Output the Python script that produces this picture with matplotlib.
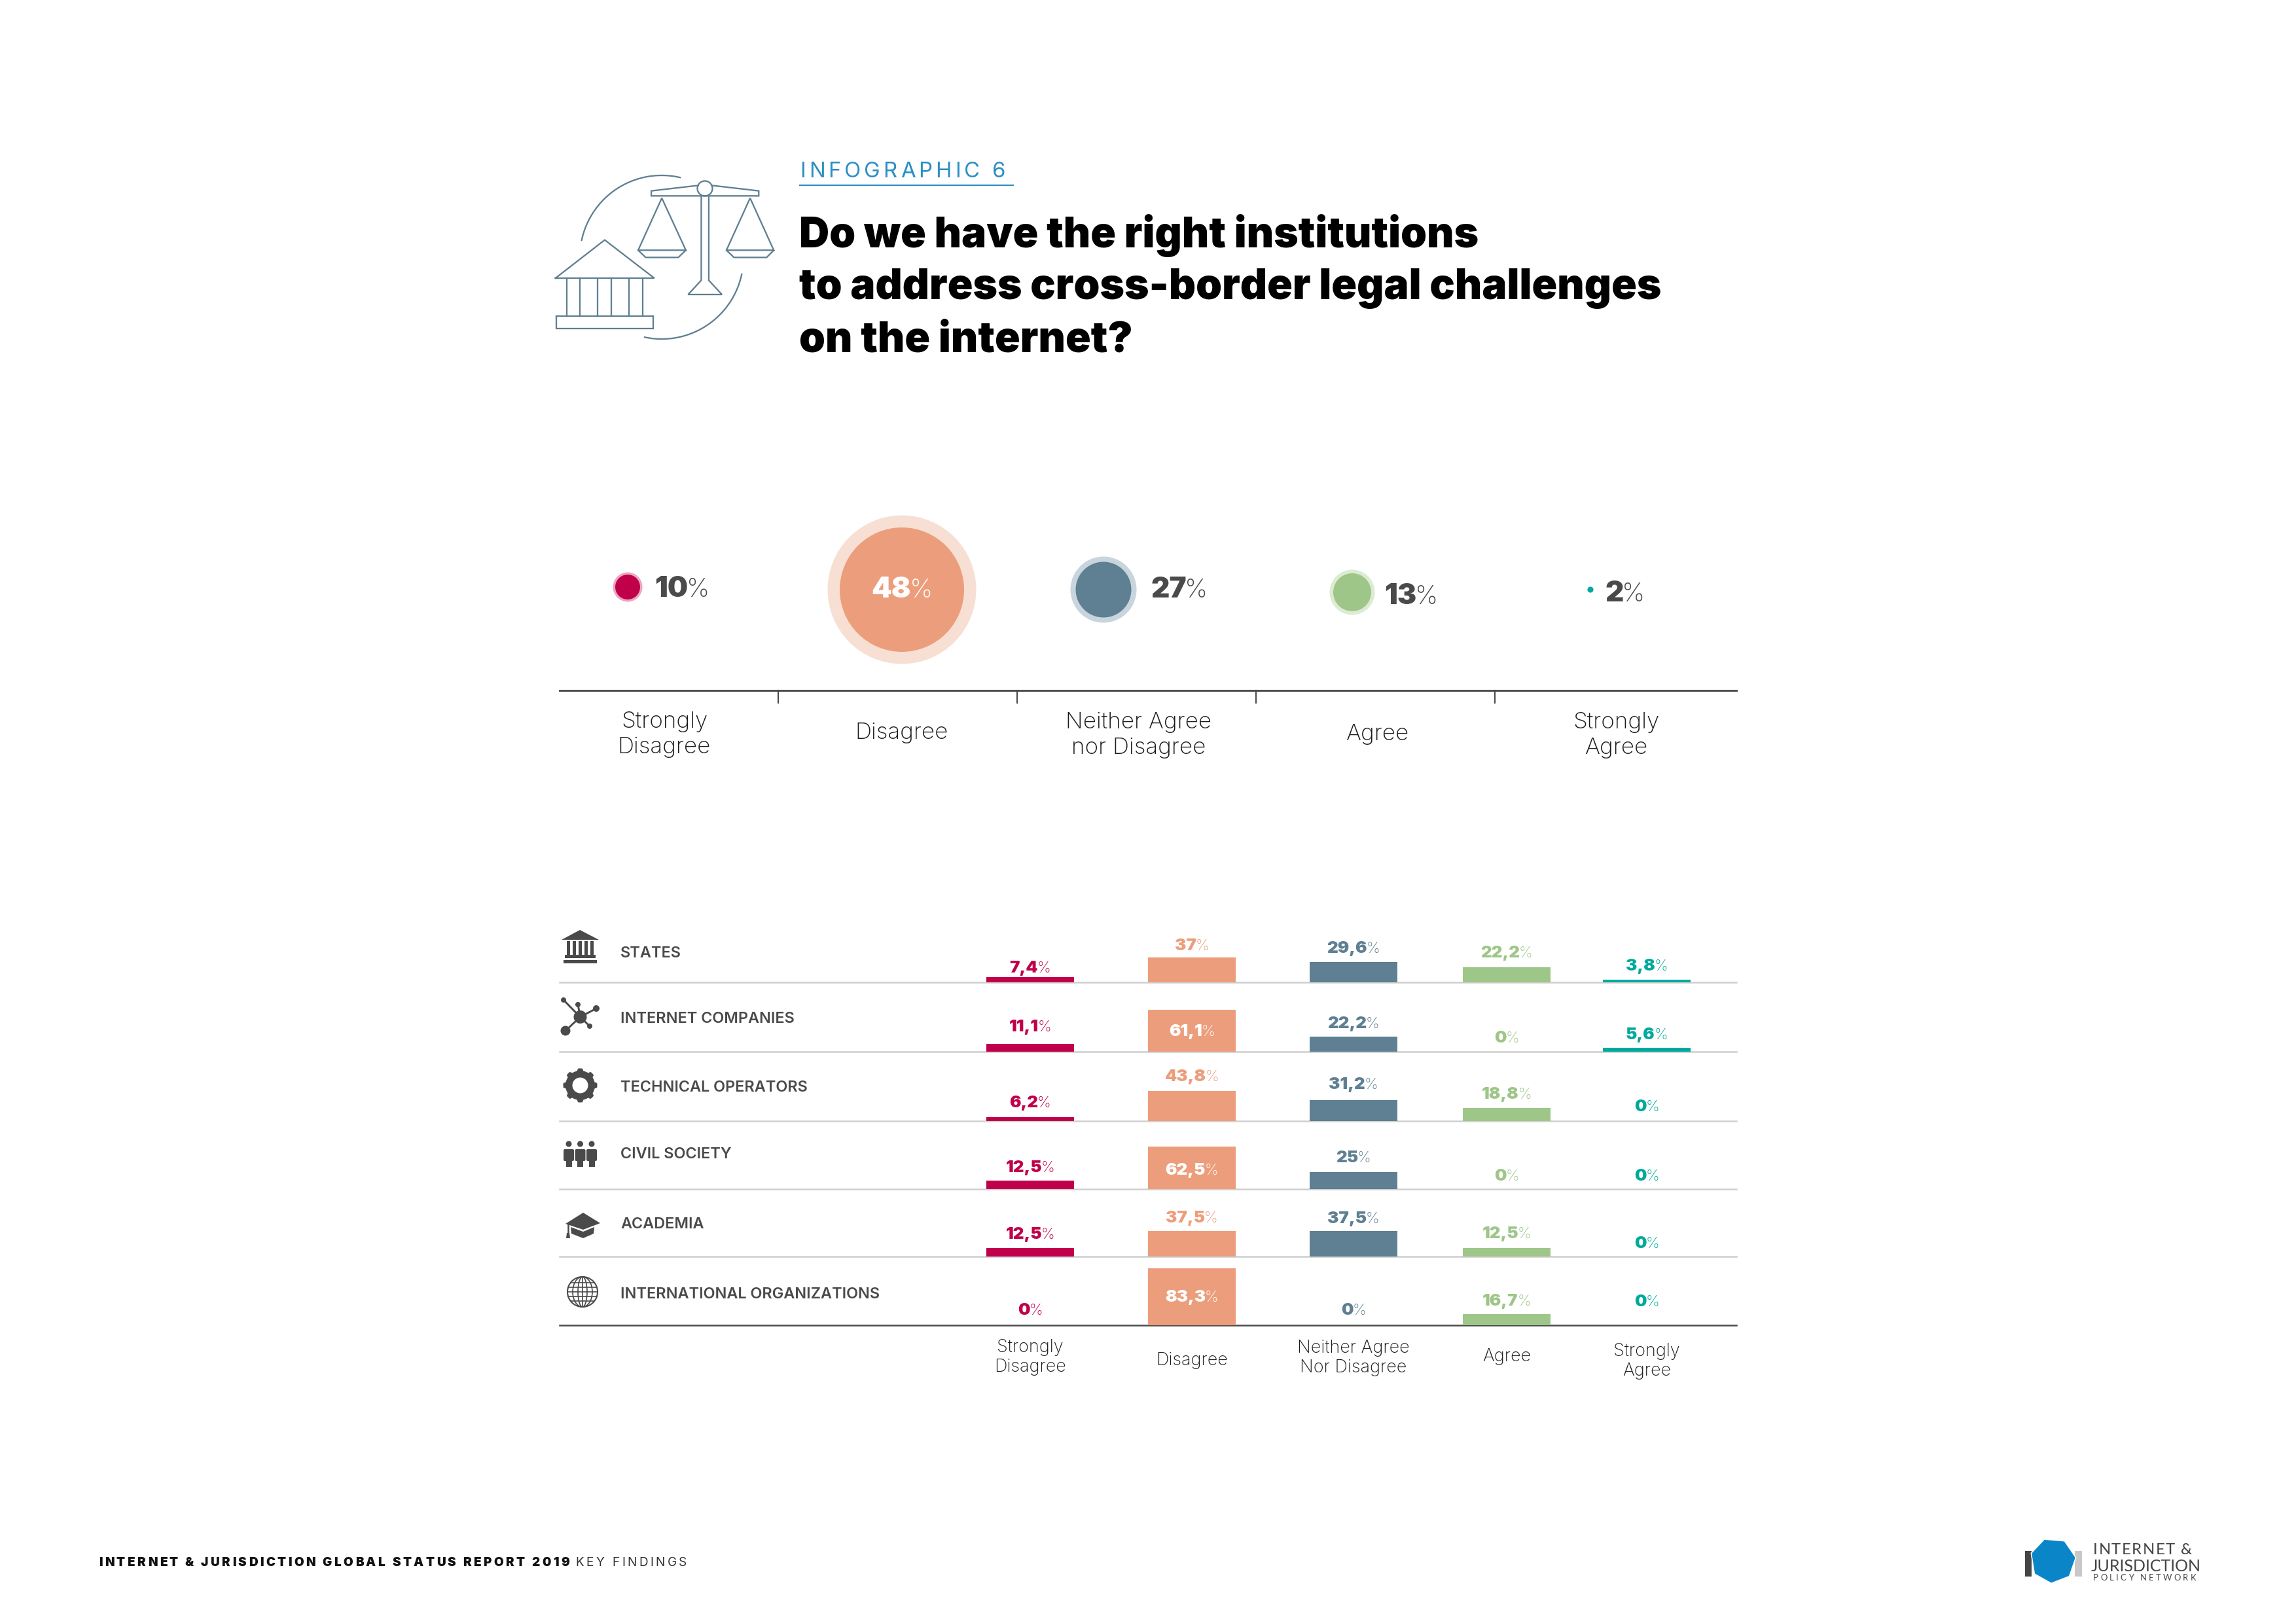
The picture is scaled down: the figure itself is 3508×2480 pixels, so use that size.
import numpy as np
import matplotlib
matplotlib.use("Agg")
import matplotlib.pyplot as plt
from matplotlib.font_manager import FontProperties
from matplotlib.patches import Circle, Ellipse, Polygon, Rectangle, FancyBboxPatch

W, H = 3508, 2480
DPI = 300

# survey totals
total_labels = ["Strongly\nDisagree", "Disagree", "Neither Agree\nnor Disagree", "Agree", "Strongly\nAgree"]
total_values = [10, 48, 27, 13, 2]

# per stakeholder group
groups = ["STATES", "INTERNET COMPANIES", "TECHNICAL OPERATORS", "CIVIL SOCIETY", "ACADEMIA", "INTERNATIONAL ORGANIZATIONS"]
answers = ["Strongly\nDisagree", "Disagree", "Neither Agree\nNor Disagree", "Agree", "Strongly\nAgree"]
strongly_disagree = [7.4, 11.1, 6.2, 12.5, 12.5, 0]
disagree = [37, 61.1, 43.8, 62.5, 37.5, 83.3]
neither = [29.6, 22.2, 31.2, 25, 37.5, 0]
agree = [22.2, 0, 18.8, 0, 12.5, 16.7]
strongly_agree = [3.8, 5.6, 0, 0, 0, 0]
series = [strongly_disagree, disagree, neither, agree, strongly_agree]

# colours
colors = ["#c0004a", "#ec9e7c", "#5f7f92", "#9ec688", "#00a99d"]
halos = ["#eda6c2", "#f8dfd3", "#c9d5dd", "#dcebd2", "#9fded9"]
DARK = "#4a4a4a"
TEXT = "#1c1c1c"
BLUE = "#2a8fc4"
FONT = "Inter"
LIGHT = "Inter"

# layout, all in picture pixels
bubble_x = [959, 1378, 1686, 2066, 2430]
bubble_y = [897, 901, 901, 905, 901]
bubble_d = [38, 190, 85, 58, 9]
halo_d = [45, 227, 101, 69, 9]
bubble_text_x = [1000, 1378, 1758, 2115, 2452]
bubble_text_y = [896, 897, 897, 907, 903]
top_label_x = [1015, 1378, 1740, 2105, 2470]
top_label_y = [1122, 1120, 1123, 1122, 1123]
top_ticks = [1189, 1554, 1919, 2284]

baselines = [1501, 1607, 1713, 1817, 1920, 2025]
rule_x0, rule_x1 = 855, 2653
bar_x = [1574, 1821, 2068, 2302, 2516]
bar_w = 134
px_per_pct = 1.04
group_y = [1454, 1554, 1659, 1761, 1868, 1975]
value_y = [[1477, 1567, 1683, 1782, 1884, 2000],
           [1443, 1574, 1643, 1786, 1859, 1980],
           [1447, 1562, 1655, 1767, 1860, 2000],
           [1454, 1584, 1670, 1795, 1883, 1986],
           [1474, 1579, 1689, 1795, 1898, 1987]]
answer_y = [2074, 2079, 2075, 2073, 2080]


def fs(px):
    return px * 72 / DPI


fig = plt.figure(figsize=(W / DPI, H / DPI), dpi=DPI, facecolor="white")
renderer = fig.canvas.get_renderer()

# one small axes per row, 0-100 percent upwards from the row rule
for i in range(len(groups)):
    r = fig.add_axes([rule_x0 / W, 1 - baselines[i] / H, (rule_x1 - rule_x0) / W, 100 * px_per_pct / H])
    r.patch.set_visible(False)
    r.set_xlim(rule_x0, rule_x1)
    r.set_ylim(0, 100)
    r.set_xticks([])
    r.set_yticks([])
    for name in ["top", "left", "right"]:
        r.spines[name].set_visible(False)
    r.spines["bottom"].set_zorder(0)
    r.spines["bottom"].set_color(DARK if i == len(groups) - 1 else "#cfcfcf")
    r.spines["bottom"].set_linewidth(0.6)
    r.bar(bar_x, [s[i] for s in series], width=bar_w, color=colors)

ax = fig.add_axes([0, 0, 1, 1])
ax.patch.set_visible(False)
ax.set_xlim(0, W)
ax.set_ylim(H, 0)
ax.axis("off")


def text_w(s, fp):
    return renderer.get_text_width_height_descent(s, fp, False)[0]


def tracked(x, y, s, size, color, track, family=FONT, weight="normal"):
    fp = FontProperties(family=family, weight=weight, size=fs(size))
    for i, ch in enumerate(s):
        ax.text(x + text_w(s[:i], fp) + i * track, y, ch, fontproperties=fp, color=color, va="baseline", ha="left")
    return x + text_w(s, fp) + len(s) * track


def pct(x, y, s, size, color, ha="center"):
    # heavy number, thin percent sign
    fp1 = FontProperties(family=FONT, weight="black", size=fs(size))
    fp2 = FontProperties(family=LIGHT, weight="light", size=fs(size * 0.9))
    gap = -0.05 * size
    w1, w2 = text_w(s, fp1), text_w("%", fp2)
    x0 = x - (w1 + gap + w2) / 2 if ha == "center" else x
    yb = y + 0.36 * size
    ax.text(x0, yb, s, fontproperties=fp1, color=color, va="baseline", ha="left")
    ax.text(x0 + w1 + gap, yb, "%", fontproperties=fp2, color=color, va="baseline", ha="left")


def fmt(v):
    return ("%g" % v).replace(".", ",")


# header
tracked(1222, 271, "INFOGRAPHIC 6", 33, BLUE, 5.0, family=LIGHT)
ax.plot([1222, 1548], [283, 283], color=BLUE, lw=0.5)
title_lines = ["Do we have the right institutions", "to address cross-border legal challenges", "on the internet?"]
for y, line in zip([378, 457, 537], title_lines):
    ax.text(1221, y, line, family=FONT, weight="black", fontsize=fs(64), color="black", va="baseline", ha="left")

# scales icon, traced in crop coordinates
def ix(p):
    p = np.array(p, dtype=float)
    return np.c_[820 + p[:, 0] / 1.742, 220 + p[:, 1] / 3]


ICON = "#5f7f92"
icon_paths = [
    [(430, 190), (305, 215), (305, 238), (591, 238), (591, 215), (466, 190)],
    [(438, 238), (438, 625), (403, 690), (493, 690), (458, 625), (458, 238)],
    [(270, 487), (333, 248), (397, 487), (270, 487), (290, 520), (377, 520), (397, 487)],
    [(505, 487), (568, 248), (631, 487), (505, 487), (525, 520), (612, 520), (631, 487)],
    [(50, 615), (181, 440), (313, 615), (50, 615)],
    [(52, 790), (310, 790), (310, 847), (52, 847), (52, 790)],
]
for x in [80, 115, 162, 199, 246, 283]:
    icon_paths.append([(x, 615), (x, 790)])
for p in icon_paths:
    q = ix(p)
    ax.plot(q[:, 0], q[:, 1], color=ICON, lw=0.55, solid_joinstyle="miter")
ax.add_patch(Circle((1077, 288), 11.5, fc="white", ec=ICON, lw=0.55))
for a0, a1 in [(-168, -77), (12, 102)]:
    t = np.radians(np.linspace(a0, a1, 60))
    ax.plot(1011 + 125 * np.cos(t), 393 + 125 * np.sin(t), color=ICON, lw=0.55)

# totals
ax.plot([rule_x0, rule_x1], [1055, 1055], color=DARK, lw=0.7)
for x in top_ticks:
    ax.plot([x, x], [1055, 1074], color=DARK, lw=0.5)
for i, v in enumerate(total_values):
    ax.add_patch(Circle((bubble_x[i], bubble_y[i]), halo_d[i] / 2, fc=halos[i], ec="none"))
    ax.add_patch(Circle((bubble_x[i], bubble_y[i]), bubble_d[i] / 2, fc=colors[i], ec="none"))
    if i == 1:
        pct(bubble_text_x[i], bubble_text_y[i], str(v), 44, "white")
    else:
        pct(bubble_text_x[i], bubble_text_y[i], str(v), 44, DARK, ha="left")
    ax.text(top_label_x[i], top_label_y[i], total_labels[i], family=LIGHT, weight="light", fontsize=fs(35), color=TEXT,
            ha="center", va="center", linespacing=1.28, multialignment="center")

# groups
for i, g in enumerate(groups):
    ax.text(948, group_y[i] + 9, g, family=FONT, weight="semibold", fontsize=fs(23.5), color=DARK, va="baseline", ha="left")
for j, s in enumerate(series):
    for i, v in enumerate(s):
        c = "white" if v > 60 else colors[j]
        pct(bar_x[j], value_y[j][i], fmt(v), 26, c)
    ax.text(bar_x[j], answer_y[j], answers[j], family=LIGHT, weight="light", fontsize=fs(27), color=TEXT, ha="center", va="center",
            linespacing=1.22, multialignment="center")

# row icons
# bank
ax.add_patch(Polygon([(858, 1436), (886, 1421), (915, 1436)], fc=DARK, ec="none"))
for x in [868, 877, 886, 895, 904]:
    ax.add_patch(Rectangle((x - 2.5, 1438), 5, 24, fc=DARK, ec="none"))
ax.add_patch(Rectangle((863, 1459), 47, 5, fc=DARK, ec="none"))
ax.add_patch(Rectangle((861, 1467), 51, 5, fc=DARK, ec="none"))
# network
hub = (886.5, 1554)
for p, d in [((861, 1528), 8), ((883, 1535), 8), ((911, 1541), 10), ((864, 1575), 15), ((901, 1568), 8)]:
    ax.plot([hub[0], p[0]], [hub[1], p[1]], color=DARK, lw=0.7)
    ax.add_patch(Circle(p, d / 2, fc=DARK, ec="none"))
ax.add_patch(Circle(hub, 10, fc=DARK, ec="none"))
# gear
ang = np.radians(np.arange(0, 360, 5) + 22.5)
rad = np.where(np.cos(8 * ang) > 0, 26, 22.5)
ax.add_patch(Polygon(np.c_[886.5 + rad * np.cos(ang), 1658.5 + rad * np.sin(ang)], fc=DARK, ec="none"))
ax.add_patch(Circle((886.5, 1658.5), 12, fc="white", ec="none"))
# people
for x in [869, 886.5, 904]:
    ax.add_patch(Circle((x, 1748), 4.5, fc=DARK, ec="none"))
    ax.add_patch(FancyBboxPatch((x - 6, 1758), 12, 14, boxstyle="round,pad=2", fc=DARK, ec="none"))
    ax.add_patch(Rectangle((x - 4.5, 1772), 9, 11, fc=DARK, ec="none"))
# cap
ax.add_patch(Polygon([(864, 1870), (891, 1853), (917, 1869), (891, 1879)], fc=DARK, ec="none"))
ax.add_patch(Polygon([(872, 1875), (891, 1882), (908, 1875), (907, 1885), (891, 1892), (873, 1885)], fc=DARK, ec="none"))
ax.plot([868, 868], [1870, 1885], color=DARK, lw=0.6)
ax.add_patch(Polygon([(866, 1884), (870, 1884), (871, 1892), (865, 1892)], fc=DARK, ec="none"))
# globe
gc = (890, 1974)
ax.add_patch(Circle(gc, 23, fc="none", ec=DARK, lw=0.5))
for rx in [7, 15]:
    ax.add_patch(Ellipse(gc, 2 * rx, 46, fc="none", ec=DARK, lw=0.4))
ax.plot([gc[0], gc[0]], [gc[1] - 23, gc[1] + 23], color=DARK, lw=0.4)
for dy in [-14, -7, 0, 7, 14]:
    dx = np.sqrt(23 ** 2 - dy ** 2)
    ax.plot([gc[0] - dx, gc[0] + dx], [gc[1] + dy, gc[1] + dy], color=DARK, lw=0.4)

# footer
xe = tracked(151, 2393, "INTERNET & JURISDICTION GLOBAL STATUS REPORT 2019", 19, "#111111", 3.5, weight="black")
tracked(xe + 6, 2393, "KEY FINDINGS", 19, "#333333", 3.5, family=LIGHT)

# logo
def lx(p):
    p = np.array(p, dtype=float)
    return np.c_[3060 + p[:, 0] / 3, 2330 + p[:, 1] / 3]


ax.add_patch(Rectangle((3094, 2370), 9.5, 38.5, fc="#444444", ec="none"))
ax.add_patch(Rectangle((3170, 2370), 10.5, 38.5, fc="#c8c8c8", ec="none"))
ax.add_patch(Polygon(lx([(190, 66), (283, 74), (335, 150), (305, 236), (222, 268), (145, 225), (130, 130)]), fc="#0a86c8", ec="white", lw=0.4))
tracked(3198, 2375, "INTERNET &", 24, "#444444", 1.4, family="Lato")
ax.text(3195, 2401, "JURISDICTION", family="Lato", fontsize=fs(25), color="#444444", va="baseline", ha="left")
tracked(3198, 2415, "POLICY NETWORK", 13, "#444444", 3.3, family="Lato")

fig.savefig("out.png", dpi=DPI)
